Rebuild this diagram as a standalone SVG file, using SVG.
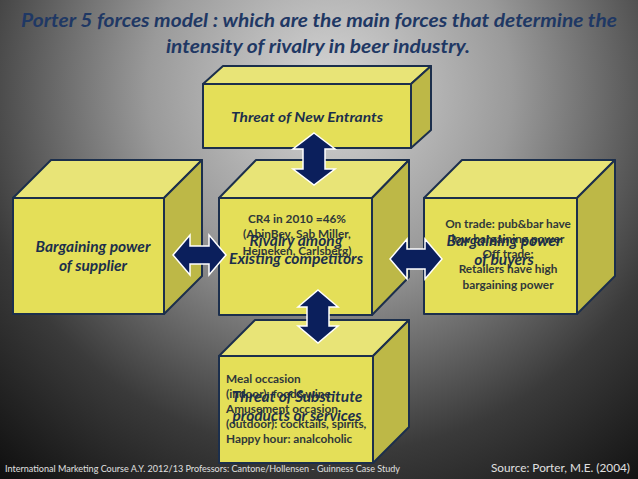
<svg xmlns="http://www.w3.org/2000/svg" width="638" height="479" viewBox="0 0 638 479">
<defs>
<radialGradient id="bg" cx="330" cy="90" r="520" gradientUnits="userSpaceOnUse">
<stop offset="0" stop-color="#d6d6d6"/>
<stop offset="0.35" stop-color="#9a9a9a"/>
<stop offset="0.7" stop-color="#3a3a3a"/>
<stop offset="1" stop-color="#0c0c0c"/>
</radialGradient>
<style>
.front{fill:#e4df58;stroke:#1c2f4c;stroke-width:2;stroke-linejoin:round}
.top{fill:#e8e477;stroke:#1c2f4c;stroke-width:2;stroke-linejoin:round}
.side{fill:#bdb847;stroke:#1c2f4c;stroke-width:2;stroke-linejoin:round}
.arr{fill:#0b1f5c;stroke:#ffffff;stroke-width:1.5;stroke-linejoin:miter}
.ttl{font-family:Lato,"Liberation Sans",sans-serif;font-weight:bold;font-style:italic;fill:#1f3864}
.lbl{font-family:Lato,"Liberation Sans",sans-serif;font-weight:bold;font-style:italic;fill:#1c2f4c;text-anchor:middle}
.sm{font-family:Lato,"Liberation Sans",sans-serif;font-weight:bold;fill:#30383a;font-size:11.8px}
.ft{font-family:Lato,"Liberation Sans",sans-serif;fill:#e0e0e0}
</style>
</defs>
<rect x="0" y="0" width="638" height="479" fill="url(#bg)"/>
<g id="title">
<text class="ttl" x="319" y="27" font-size="18" text-anchor="middle" textLength="596" lengthAdjust="spacingAndGlyphs">Porter 5 forces model : which are the main forces that determine the</text>
<text class="ttl" x="318" y="53" font-size="18" text-anchor="middle" textLength="304" lengthAdjust="spacingAndGlyphs">intensity of rivalry in beer industry.</text>
</g>
<g id="new-entrants">
<polygon class="top" points="203,84 223,66 431,66 411,84"/>
<polygon class="side" points="411,84 431,66 431,130 411,148"/>
<rect class="front" x="203" y="84" width="208" height="64"/>
<text class="lbl" x="307" y="122" font-size="14" textLength="152" lengthAdjust="spacingAndGlyphs">Threat of New Entrants</text>
</g>
<g id="supplier">
<polygon class="top" points="13,198 51,160 202,160 164,198"/>
<polygon class="side" points="164,198 202,160 202,276 164,314"/>
<rect class="front" x="13" y="198" width="151" height="116"/>
<text class="lbl" x="93" y="252" font-size="15.5">Bargaining power</text>
<text class="lbl" x="93" y="271" font-size="15.5">of supplier</text>
</g>
<g id="rivalry">
<polygon class="top" points="219,198 256,160 409,160 372,198"/>
<polygon class="side" points="372,198 409,160 409,277 372,315"/>
<rect class="front" x="219" y="198" width="153" height="117"/>
<text class="sm" x="297" y="223" text-anchor="middle">CR4 in 2010 =46%</text>
<text class="sm" x="297" y="238" text-anchor="middle">(AbinBev, Sab Miller,</text>
<text class="sm" x="297" y="255" text-anchor="middle">Heineken, Carlsberg)</text>
<text class="lbl" x="296" y="246" font-size="15.5">Rivalry among</text>
<text class="lbl" x="296" y="264" font-size="15.5" textLength="134" lengthAdjust="spacingAndGlyphs">Existing competitors</text>
</g>
<g id="buyers">
<polygon class="top" points="424,198 462,160 615,160 577,198"/>
<polygon class="side" points="577,198 615,160 615,276 577,314"/>
<rect class="front" x="424" y="198" width="153" height="116"/>
<text class="sm" x="508" y="228" text-anchor="middle">On trade: pub&amp;bar have</text>
<text class="sm" x="508" y="243" text-anchor="middle">low bargaining power</text>
<text class="sm" x="508" y="258" text-anchor="middle">Off trade:</text>
<text class="sm" x="508" y="273" text-anchor="middle">Retailers have high</text>
<text class="sm" x="508" y="289" text-anchor="middle">bargaining power</text>
<text class="lbl" x="504" y="246" font-size="15.5">Bargaining power</text>
<text class="lbl" x="504" y="265" font-size="15.5">of buyers</text>
</g>
<g id="substitutes">
<polygon class="top" points="219,356 255,320 409,320 373,356"/>
<polygon class="side" points="373,356 409,320 409,427 373,463"/>
<rect class="front" x="219" y="356" width="154" height="107"/>
<text class="sm" x="226" y="383">Meal occasion</text>
<text class="sm" x="226" y="398">(indoor): food&amp;wine</text>
<text class="sm" x="226" y="413">Amusement occasion</text>
<text class="sm" x="226" y="428">(outdoor): cocktails, spirits,</text>
<text class="sm" x="226" y="443">Happy hour: analcoholic</text>
<text class="lbl" x="297" y="402" font-size="15.5">Threat of Substitute</text>
<text class="lbl" x="297" y="421" font-size="15.5">products or services</text>
</g>
<g id="connectors">
<polygon class="arr" points="314,133 335,149 325,149 325,169 335,169 314,185 293,169 303,169 303,149 293,149"/>
<polygon class="arr" points="318,290 338,307 329,307 329,326 338,326 318,343 298,326 307,326 307,307 298,307"/>
<polygon class="arr" points="173,255 190,235 190,246 209,246 209,235 226,255 209,275 209,264 190,264 190,275"/>
<polygon class="arr" points="390,259 407,239 407,249 425,249 425,239 442,259 425,279 425,269 407,269 407,279"/>
</g>
<g id="footer">
<text class="ft" x="5" y="472" font-size="9" textLength="395" lengthAdjust="spacingAndGlyphs">International Marketing Course A.Y. 2012/13 Professors: Cantone/Hollensen  - Guinness Case Study</text>
<text class="ft" x="491" y="472" font-size="11" textLength="139" lengthAdjust="spacingAndGlyphs">Source: Porter, M.E. (2004)</text>
</g>
</svg>
